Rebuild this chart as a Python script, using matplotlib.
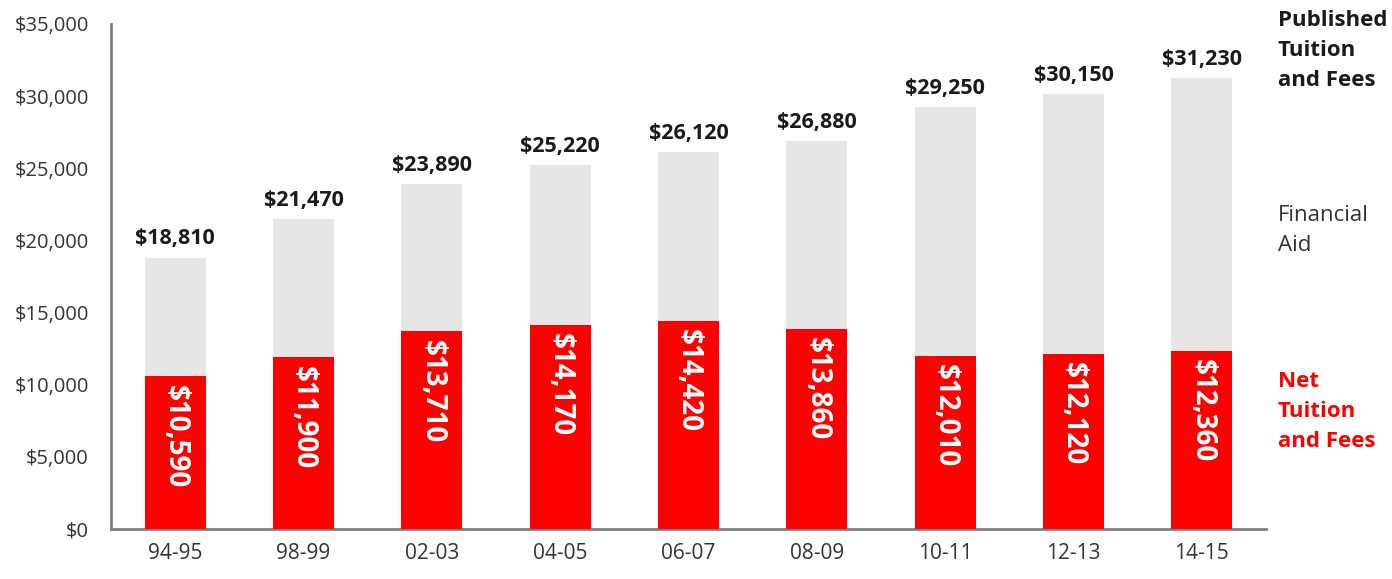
import matplotlib
matplotlib.use("Agg")
import matplotlib.pyplot as plt

plt.rcParams['font.family'] = ['Open Sans', 'DejaVu Sans']

years = ["94-95", "98-99", "02-03", "04-05", "06-07", "08-09", "10-11", "12-13", "14-15"]
published = [18810, 21470, 23890, 25220, 26120, 26880, 29250, 30150, 31230]
net = [10590, 11900, 13710, 14170, 14420, 13860, 12010, 12120, 12360]
yticks = [0, 5000, 10000, 15000, 20000, 25000, 30000, 35000]

RED = "#FF0000"
GRAY = "#E6E6E6"

fig = plt.figure(figsize=(13.92, 5.79), dpi=100)
ax = fig.add_axes([111/1392, 1-529/579, (1266-111)/1392, (529-24)/579])

x = list(range(len(years)))
w = 0.475
ax.bar(x, published, width=w, color=GRAY, zorder=2)
ax.bar(x, net, width=w, color=RED, zorder=3)

for xi, p, n in zip(x, published, net):
    ax.annotate(f"${p:,}", (xi, p), xytext=(0, 6), textcoords="offset points",
                ha="center", va="bottom", fontsize=15.5, fontweight="bold", color="#1a1a1a")
    ax.annotate(f"${n:,}", (xi, n), xytext=(0, -6), textcoords="offset points",
                ha="center", va="top", rotation=-90, fontsize=20, fontweight="bold",
                color="white", zorder=4)

ax.set_xlim(-0.5, 8.5)
ax.set_ylim(0, 35000)
ax.set_xticks(x)
ax.set_xticklabels(years)
ax.set_yticks(yticks)
ax.set_yticklabels([f"${v:,}" for v in yticks])
ax.tick_params(axis="both", length=0, colors="#333333")
ax.tick_params(axis="x", pad=10, labelsize=15)
ax.tick_params(axis="y", pad=16, labelsize=14.5)
for s in ["top", "right"]:
    ax.spines[s].set_visible(False)
for s in ["left", "bottom"]:
    ax.spines[s].set_color("#808080")
    ax.spines[s].set_linewidth(2)

fig.text(1278/1392, 1-10/579, "Published\nTuition\nand Fees", ha="left", va="top",
         fontsize=16, fontweight="bold", color="#1a1a1a", linespacing=1.55)
fig.text(1278/1392, 1-205/579, "Financial\nAid", ha="left", va="top",
         fontsize=16, color="#333333", linespacing=1.55)
fig.text(1278/1392, 1-371/579, "Net\nTuition\nand Fees", ha="left", va="top",
         fontsize=16, fontweight="bold", color=RED, linespacing=1.55)

fig.savefig("out.png", dpi=100)
